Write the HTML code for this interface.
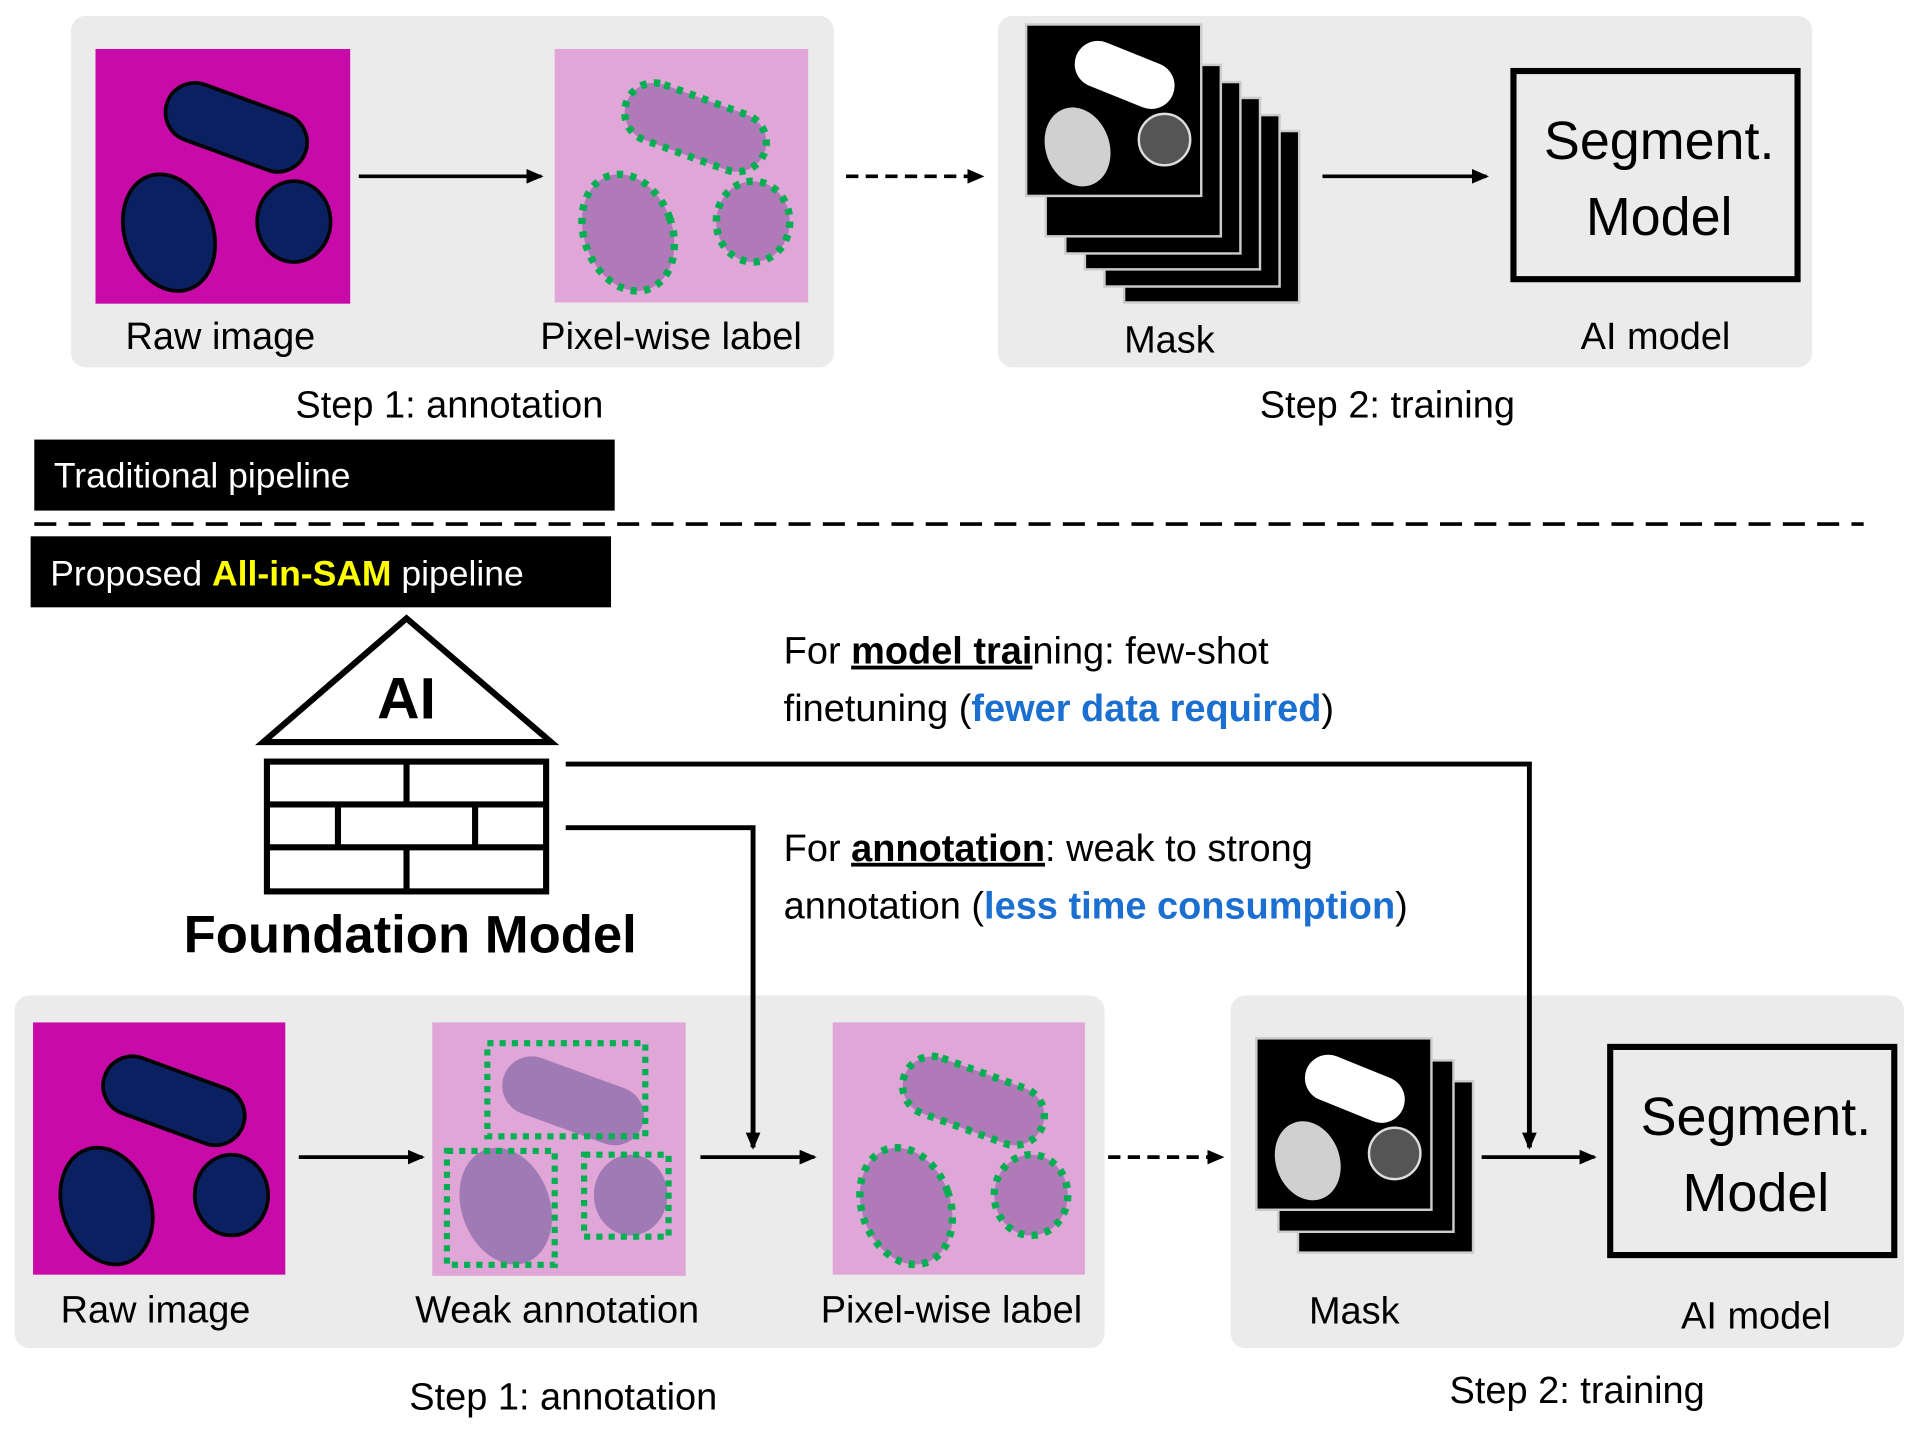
<!DOCTYPE html>
<html><head><meta charset="utf-8"><style>html,body{margin:0;padding:0;background:#fff}svg{display:block}text{font-family:"Liberation Sans",sans-serif}</style></head><body>
<svg width="1920" height="1432" viewBox="0 0 1568 1169.5" preserveAspectRatio="none" xmlns="http://www.w3.org/2000/svg">
<defs>
<marker id="ah2" markerWidth="14" markerHeight="14" refX="12" refY="7" orient="auto" markerUnits="userSpaceOnUse"><path d="M0,1 L14,7 L0,13 z" fill="#000"/></marker>
<g id="cells">
<rect x="55" y="40" width="120" height="48" rx="24" transform="rotate(20 115 64)"/>
<ellipse cx="60" cy="150" rx="36" ry="49" transform="rotate(-20 60 150)"/>
<ellipse cx="162" cy="141" rx="30" ry="33"/>
</g>
<g id="mask">
<rect x="0" y="0" width="143" height="140" fill="#000" stroke="#ccc" stroke-width="2"/>
<rect x="38" y="22" width="85" height="38" rx="19" transform="rotate(22 80 41)" fill="#fff"/>
<ellipse cx="42" cy="100" rx="26" ry="33" transform="rotate(-20 42 100)" fill="#d0d0d0"/>
<circle cx="113" cy="94" r="21" fill="#555" stroke="#ddd" stroke-width="2"/>
</g>
<rect id="back" x="0" y="0" width="143" height="140" fill="#000" stroke="#ccc" stroke-width="2"/>
</defs>
<!-- TOP -->
<rect x="58" y="13" width="623" height="287" rx="12" fill="#ebebeb"/>
<rect x="78" y="40" width="208" height="208" fill="#c80aa8"/>
<g transform="translate(78,40)" fill="#0a2060" stroke="#000" stroke-width="3"><use href="#cells"/></g>
<line x1="293" y1="144" x2="442" y2="144" stroke="#000" stroke-width="3" marker-end="url(#ah2)"/>
<rect x="453" y="40" width="207" height="207" fill="#e0a6d8"/>
<g transform="translate(453,40)" fill="#b07ab8" stroke="#00b050" stroke-width="6" stroke-dasharray="5 6"><use href="#cells"/></g>
<text x="180" y="285" font-size="31" text-anchor="middle">Raw image</text>
<text x="548" y="285" font-size="31" text-anchor="middle">Pixel-wise label</text>
<text x="367" y="341" font-size="31" text-anchor="middle">Step 1: annotation</text>
<line x1="691" y1="144" x2="802" y2="144" stroke="#000" stroke-width="3" stroke-dasharray="10 6" marker-end="url(#ah2)"/>
<rect x="815" y="13" width="665" height="287" rx="12" fill="#ebebeb"/>
<use href="#back" x="918" y="107"/><use href="#back" x="902" y="94"/><use href="#back" x="886" y="80"/><use href="#back" x="870" y="67"/><use href="#back" x="854" y="53"/><use href="#mask" x="838" y="20"/>
<line x1="1080" y1="144" x2="1214" y2="144" stroke="#000" stroke-width="3" marker-end="url(#ah2)"/>
<rect x="1236" y="58" width="232" height="170" fill="none" stroke="#000" stroke-width="5"/>
<text x="1355" y="130" font-size="44" text-anchor="middle">Segment.</text>
<text x="1355" y="192" font-size="44" text-anchor="middle">Model</text>
<text x="955" y="288" font-size="31" text-anchor="middle">Mask</text>
<text x="1352" y="285" font-size="31" text-anchor="middle">AI model</text>
<text x="1133" y="341" font-size="31" text-anchor="middle">Step 2: training</text>
<rect x="28" y="359" width="474" height="58" fill="#000"/>
<text x="44" y="398" font-size="29" fill="#fff">Traditional pipeline</text>
<line x1="28" y1="428" x2="1522" y2="428" stroke="#000" stroke-width="3" stroke-dasharray="18 10"/>
<rect x="25" y="438" width="474" height="58" fill="#000"/>
<text x="41" y="478" font-size="29" fill="#fff">Proposed <tspan fill="#ffff00" font-weight="bold">All-in-SAM</tspan> pipeline</text>
<!-- Foundation -->
<path d="M215,606 L332,505 L450,606 Z" fill="#fff" stroke="#000" stroke-width="5"/>
<text x="332" y="587" font-size="48" font-weight="bold" text-anchor="middle">AI</text>
<g stroke="#000" stroke-width="5" fill="none">
<rect x="218" y="622" width="228" height="106"/>
<line x1="218" y1="657" x2="446" y2="657"/><line x1="218" y1="692" x2="446" y2="692"/>
<line x1="332" y1="622" x2="332" y2="657"/><line x1="276" y1="657" x2="276" y2="692"/><line x1="388" y1="657" x2="388" y2="692"/><line x1="332" y1="692" x2="332" y2="728"/>
</g>
<text x="335" y="778" font-size="43" font-weight="bold" text-anchor="middle">Foundation Model</text>
<text x="640" y="542" font-size="31">For <tspan font-weight="bold" text-decoration="underline">model trai</tspan>ning: few-shot</text>
<text x="640" y="589" font-size="31">finetuning (<tspan fill="#1a6fd0" font-weight="bold">fewer data required</tspan>)</text>
<text x="640" y="703" font-size="31">For <tspan font-weight="bold" text-decoration="underline">annotation</tspan>: weak to strong</text>
<text x="640" y="750" font-size="31">annotation (<tspan fill="#1a6fd0" font-weight="bold">less time consumption</tspan>)</text>
<!-- BOTTOM -->
<rect x="12" y="813" width="890" height="288" rx="12" fill="#ebebeb"/>
<rect x="27" y="835" width="206" height="206" fill="#c80aa8"/>
<g transform="translate(27,835)" fill="#0a2060" stroke="#000" stroke-width="3"><use href="#cells"/></g>
<line x1="244" y1="945" x2="345" y2="945" stroke="#000" stroke-width="3" marker-end="url(#ah2)"/>
<rect x="353" y="835" width="207" height="207" fill="#e0a6d8"/>
<g transform="translate(353,835)" fill="#a07ab4" stroke="none"><use href="#cells"/></g>
<g fill="none" stroke="#00b050" stroke-width="5" stroke-dasharray="5 5">
<rect x="398" y="852" width="129" height="76"/><rect x="365" y="940" width="88" height="93"/><rect x="477" y="943" width="69" height="67"/>
</g>
<line x1="572" y1="945" x2="665" y2="945" stroke="#000" stroke-width="3" marker-end="url(#ah2)"/>
<rect x="680" y="835" width="206" height="206" fill="#e0a6d8"/>
<g transform="translate(680,835)" fill="#b07ab8" stroke="#00b050" stroke-width="6" stroke-dasharray="5 6"><use href="#cells"/></g>
<text x="127" y="1080" font-size="31" text-anchor="middle">Raw image</text>
<text x="455" y="1080" font-size="31" text-anchor="middle">Weak annotation</text>
<text x="777" y="1080" font-size="31" text-anchor="middle">Pixel-wise label</text>
<text x="460" y="1151" font-size="31" text-anchor="middle">Step 1: annotation</text>
<line x1="905" y1="945" x2="998" y2="945" stroke="#000" stroke-width="3" stroke-dasharray="10 6" marker-end="url(#ah2)"/>
<rect x="1005" y="813" width="550" height="288" rx="12" fill="#ebebeb"/>
<use href="#back" x="1060" y="883"/><use href="#back" x="1044" y="866"/><use href="#mask" x="1026" y="848"/>
<line x1="1210" y1="945" x2="1302" y2="945" stroke="#000" stroke-width="3" marker-end="url(#ah2)"/>
<rect x="1315" y="855" width="232" height="170" fill="none" stroke="#000" stroke-width="5"/>
<text x="1434" y="927" font-size="44" text-anchor="middle">Segment.</text>
<text x="1434" y="989" font-size="44" text-anchor="middle">Model</text>
<text x="1106" y="1081" font-size="31" text-anchor="middle">Mask</text>
<text x="1434" y="1085" font-size="31" text-anchor="middle">AI model</text>
<text x="1288" y="1146" font-size="31" text-anchor="middle">Step 2: training</text>
<!-- connectors on top -->
<polyline points="462,624 1249,624 1249,937" fill="none" stroke="#000" stroke-width="4" marker-end="url(#ah2)"/>
<polyline points="462,676 615,676 615,937" fill="none" stroke="#000" stroke-width="4" marker-end="url(#ah2)"/>
</svg>
</body></html>
